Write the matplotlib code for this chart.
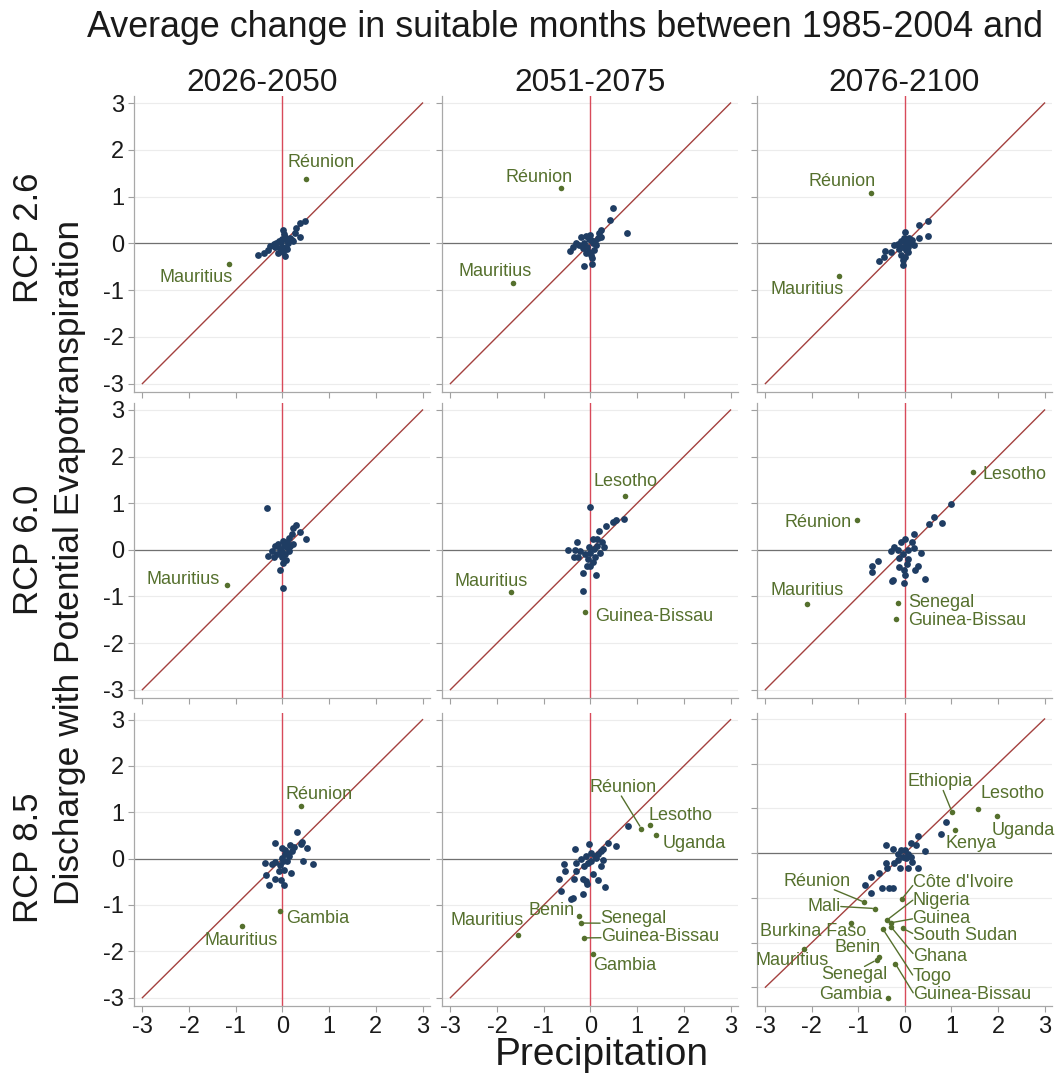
import matplotlib.pyplot as plt

plt.rcParams['font.family'] = ['Liberation Sans', 'DejaVu Sans']
plt.rcParams['axes.unicode_minus'] = False

periods = ["2026-2050", "2051-2075", "2076-2100"]
scenarios = ["RCP 2.6", "RCP 6.0", "RCP 8.5"]
ticks = [-3, -2, -1, 0, 1, 2, 3]

# (precipitation, discharge) change for the unlabelled countries
rest_26_a = [(-0.52, -0.26), (-0.40, -0.21), (-0.31, -0.14), (-0.26, -0.06), (-0.19, -0.01),
             (-0.13, 0.01), (-0.07, 0.04), (0.01, 0.29), (0.05, 0.14), (0.09, 0.07),
             (0.12, 0.00), (0.05, -0.27), (0.01, -0.18), (-0.02, -0.07), (0.16, 0.11),
             (0.23, 0.04), (0.26, 0.21), (0.30, 0.32), (0.37, 0.43), (0.49, 0.48),
             (0.37, 0.14), (-0.06, -0.11), (0.00, 0.09), (0.07, -0.07), (-0.09, -0.21),
             (-0.16, -0.07), (0.03, 0.20), (0.10, -0.12), (-0.04, 0.03), (0.20, 0.08)]
rest_26_b = [(0.48, 0.75), (0.41, 0.49), (0.79, 0.21), (-0.14, -0.48), (0.03, -0.45),
             (-0.43, -0.16), (-0.38, -0.07), (-0.31, 0.00), (-0.20, 0.14), (-0.09, 0.16),
             (-0.02, 0.18), (0.01, 0.07), (0.09, 0.04), (0.16, 0.11), (0.23, 0.14),
             (0.23, 0.29), (0.19, 0.21), (-0.07, -0.07), (-0.04, -0.18), (0.01, -0.25),
             (0.07, -0.14), (-0.16, -0.11), (-0.24, -0.04), (-0.13, 0.00), (-0.09, -0.21),
             (0.12, -0.04), (0.04, -0.32), (-0.03, 0.10), (0.05, 0.00)]
rest_26_c = [(0.50, 0.48), (0.31, 0.39), (0.49, 0.16), (0.31, 0.11), (0.00, 0.25),
             (-0.55, -0.37), (-0.44, -0.29), (-0.43, -0.16), (-0.31, -0.19), (-0.23, -0.04),
             (-0.16, -0.01), (-0.09, 0.04), (-0.05, -0.46), (-0.05, -0.36), (0.00, -0.29),
             (0.02, -0.14), (0.06, -0.07), (0.13, 0.00), (0.20, -0.04), (0.09, 0.11),
             (0.16, 0.07), (-0.05, -0.07), (-0.12, -0.13), (-0.01, 0.07), (-0.09, -0.25),
             (0.06, -0.18), (0.03, 0.02), (-0.02, 0.12)]
rest_60_a = [(-0.34, 0.89), (0.02, -0.81), (-0.06, -0.43), (0.51, 0.23), (0.29, 0.53),
             (0.22, 0.46), (0.38, 0.39), (0.20, 0.34), (-0.30, -0.14), (-0.23, -0.02),
             (-0.16, 0.09), (-0.09, 0.12), (0.02, 0.19), (0.09, 0.16), (0.16, 0.09),
             (0.22, 0.12), (0.13, -0.02), (0.06, -0.08), (-0.01, -0.16), (0.02, -0.29),
             (0.08, -0.22), (-0.12, -0.09), (-0.19, -0.16), (-0.05, 0.01), (0.09, 0.05),
             (0.03, 0.08), (-0.02, -0.04), (0.15, 0.25)]
rest_60_b = [(0.00, 0.91), (0.71, 0.67), (0.55, 0.64), (0.49, 0.59), (0.34, 0.50),
             (0.19, 0.41), (-0.16, -0.89), (-0.16, -0.49), (0.11, -0.54), (-0.49, 0.00),
             (-0.36, -0.16), (-0.29, 0.16), (-0.33, 0.00), (-0.22, -0.02), (-0.26, -0.16),
             (-0.08, -0.34), (0.00, -0.34), (0.05, -0.27), (0.10, -0.15), (0.21, -0.06),
             (0.28, 0.06), (0.24, 0.16), (0.14, 0.24), (0.05, 0.23), (-0.04, 0.05),
             (-0.11, -0.09), (0.00, -0.06), (0.14, 0.09), (0.08, 0.02), (-0.06, -0.20)]
rest_60_c = [(0.99, 0.99), (0.63, 0.70), (0.52, 0.56), (0.79, 0.58), (0.20, 0.34),
             (-0.59, -0.25), (-0.71, -0.35), (-0.71, -0.48), (-0.28, -0.68), (-0.26, -0.64),
             (-0.01, -0.71), (0.43, -0.62), (0.27, -0.34), (0.22, -0.44), (0.34, -0.06),
             (0.00, -0.55), (-0.01, -0.44), (-0.12, -0.37), (0.04, -0.31), (0.06, -0.19),
             (-0.12, -0.17), (-0.30, -0.03), (-0.23, 0.06), (-0.09, 0.16), (0.00, 0.24),
             (0.16, 0.16), (0.19, 0.04), (0.06, -0.01), (-0.16, -0.01), (-0.05, -0.09)]
rest_85_a = [(0.31, 0.58), (-0.15, 0.34), (0.42, 0.37), (0.53, 0.23), (0.65, -0.11),
             (0.44, -0.06), (-0.38, -0.09), (-0.22, -0.11), (-0.15, -0.08), (-0.35, -0.36),
             (-0.28, -0.56), (-0.15, -0.44), (-0.04, -0.45), (0.03, -0.57), (-0.08, -0.27),
             (0.03, -0.24), (0.19, -0.31), (0.10, -0.06), (0.14, 0.05), (0.21, 0.16),
             (0.24, 0.26), (0.17, 0.29), (0.06, 0.19), (-0.01, 0.23), (0.06, 0.09),
             (-0.01, 0.01), (-0.06, -0.13), (0.39, 0.32), (0.10, 0.12), (0.02, -0.05)]
rest_85_b = [(0.80, 0.70), (0.55, 0.27), (0.37, 0.33), (0.26, 0.21), (-0.03, 0.31),
             (-0.34, 0.21), (-0.57, -0.12), (-0.54, -0.27), (-0.31, -0.09), (-0.20, 0.00),
             (-0.09, 0.06), (0.01, 0.13), (0.09, 0.06), (0.16, 0.09), (0.23, 0.16),
             (0.26, -0.03), (0.23, -0.16), (0.05, -0.34), (0.16, -0.46), (0.32, -0.62),
             (-0.07, -0.55), (-0.09, -0.48), (-0.16, -0.43), (-0.36, -0.43), (-0.31, -0.26),
             (-0.67, -0.44), (-0.63, -0.69), (-0.38, -0.85), (-0.41, -0.87), (-0.16, -0.77),
             (-0.13, -0.16), (-0.06, -0.09), (0.01, -0.05), (0.12, 0.02)]
rest_85_c = [(0.89, 0.69), (0.77, 0.42), (0.29, 0.38), (0.24, 0.18), (0.14, 0.22),
             (0.43, 0.04), (-0.40, 0.19), (-0.26, 0.09), (-0.16, -0.01), (-0.09, 0.07),
             (0.00, 0.08), (0.06, -0.01), (0.13, -0.08), (0.16, -0.21), (0.27, -0.34),
             (0.06, -0.34), (-0.11, -0.34), (-0.23, -0.23), (-0.41, -0.22), (-0.39, -0.34),
             (-0.55, -0.44), (-0.73, -0.53), (-0.86, -0.72), (-0.73, -0.89), (-0.50, -0.79),
             (-0.34, -0.79), (-0.26, -0.77), (-0.05, -0.08), (0.02, -0.12), (-0.16, -0.16)]

# labelled outliers: (country, precipitation, discharge)
named_26_a = [("Réunion", 0.51, 1.37), ("Mauritius", -1.14, -0.45)]
named_26_b = [("Réunion", -0.64, 1.18), ("Mauritius", -1.65, -0.84)]
named_26_c = [("Réunion", -0.74, 1.07), ("Mauritius", -1.42, -0.69)]
named_60_a = [("Mauritius", -1.19, -0.76)]
named_60_b = [("Lesotho", 0.75, 1.16), ("Mauritius", -1.71, -0.90),
              ("Guinea-Bissau", -0.11, -1.34)]
named_60_c = [("Lesotho", 1.47, 1.66), ("Réunion", -1.03, 0.65), ("Mauritius", -2.11, -1.17),
              ("Senegal", -0.14, -1.14), ("Guinea-Bissau", -0.19, -1.48)]
named_85_a = [("Réunion", 0.39, 1.13), ("Mauritius", -0.86, -1.45), ("Gambia", -0.06, -1.14)]
named_85_b = [("Réunion", 1.09, 0.65), ("Lesotho", 1.27, 0.73), ("Uganda", 1.41, 0.51),
              ("Mauritius", -1.56, -1.64), ("Benin", -0.24, -1.24), ("Senegal", -0.20, -1.39),
              ("Guinea-Bissau", -0.14, -1.71), ("Gambia", 0.06, -2.05)]
named_85_c = [("Ethiopia", 1.01, 0.92), ("Lesotho", 1.58, 0.99), ("Uganda", 1.97, 0.83),
              ("Kenya", 1.08, 0.52), ("Réunion", -0.87, -1.10), ("Mali", -0.64, -1.24),
              ("Côte d'Ivoire", -0.07, -1.03), ("Nigeria", -0.39, -1.50),
              ("Guinea", -0.31, -1.56), ("Ghana", -0.30, -1.65), ("Togo", -0.48, -1.69),
              ("South Sudan", -0.05, -1.68), ("Burkina Faso", -1.16, -1.57),
              ("Benin", -0.55, -2.33), ("Senegal", -0.61, -2.39), ("Mauritius", -2.18, -2.15),
              ("Guinea-Bissau", -0.21, -2.47), ("Gambia", -0.36, -3.23)]

rest = [[rest_26_a, rest_26_b, rest_26_c],
        [rest_60_a, rest_60_b, rest_60_c],
        [rest_85_a, rest_85_b, rest_85_c]]
named = [[named_26_a, named_26_b, named_26_c],
         [named_60_a, named_60_b, named_60_c],
         [named_85_a, named_85_b, named_85_c]]

# label placement in pixels: (dx, dy, ha, leader-line start as relpos or None)
C, L, R = 'center', 'left', 'right'
label_pos = [
    [{"Réunion": (15, 17, C, None), "Mauritius": (-33, -13, C, None)},
     {"Réunion": (-22, 11, C, None), "Mauritius": (-18, 11, C, None)},
     {"Réunion": (-28, 12, C, None), "Mauritius": (-32, -14, C, None)}],
    [{"Mauritius": (-7, 6, R, None)},
     {"Lesotho": (0, 14, C, None), "Mauritius": (-20, 10, C, None),
      "Guinea-Bissau": (10, -4, L, None)},
     {"Lesotho": (9, -2, L, None), "Réunion": (-5, -3, R, None), "Mauritius": (0, 14, C, None),
      "Senegal": (10, 0, L, None), "Guinea-Bissau": (12, -2, L, None)}],
    [{"Réunion": (18, 12, C, None), "Mauritius": (-1, -15, C, None),
      "Gambia": (6, -7, L, None)},
     {"Réunion": (-18, 41, C, (0.47, 0)), "Lesotho": (31, 9, C, None),
      "Uganda": (38, -8, C, None), "Mauritius": (-31, 14, C, None),
      "Benin": (-28, 6, C, None), "Senegal": (19, 5, L, (0, 0.2)),
      "Guinea-Bissau": (17, 1, L, (0, 0.45)), "Gambia": (31, -12, C, None)},
     {"Ethiopia": (-12, 30, C, (0.55, 0)), "Lesotho": (34, 15, C, None),
      "Uganda": (27, -15, C, None), "Kenya": (16, -14, C, None),
      "Réunion": (-47, 21, C, (0.75, 0)), "Mali": (-51, 2, C, (1, 0.5)),
      "Côte d'Ivoire": (11, 17, L, (0, 0.3)), "Nigeria": (26, 20, L, (0, 0.5)),
      "Guinea": (22, 4, L, (0, 0.5)), "South Sudan": (10, -7, L, (0, 0.6)),
      "Ghana": (22, -30, L, (0, 0.7)), "Togo": (30, -48, L, (0, 0.6)),
      "Guinea-Bissau": (18, -31, L, (0, 0.6)), "Burkina Faso": (-38, -8, C, None),
      "Benin": (-22, 10, C, None), "Senegal": (-22, -15, C, (0.65, 1)),
      "Mauritius": (-11, -11, C, None), "Gambia": (-6, 3, R, None)}],
]

NAVY = '#1f3d63'
GREEN = '#55702d'
INK = '#1a1a1a'
W, H = 1060, 1075
col_left = [134, 442, 757]
col_width = [296, 296, 295]
row_top = [96, 403, 712.7]
row_bottom = [392, 698, 1006]

fig = plt.figure(figsize=(W / 100, H / 100), dpi=100)

for r in range(3):
    for c in range(3):
        ax = fig.add_axes([col_left[c] / W, 1 - row_bottom[r] / H,
                           col_width[c] / W, (row_bottom[r] - row_top[r]) / H])
        ax.set_xlim(-3.18, 3.16)
        if r == 2 and c == 2:
            ax.set_ylim(-3.42, 3.14)
        else:
            ax.set_ylim(-3.18, 3.15)
        ax.set_xticks(ticks)
        ax.set_yticks(ticks)
        ax.set_axisbelow(True)
        ax.yaxis.grid(True, color='#ececec', lw=0.8)
        for s in ('top', 'right'):
            ax.spines[s].set_visible(False)
        for s in ('left', 'bottom'):
            ax.spines[s].set_color('#a8a8a8')
            ax.spines[s].set_linewidth(0.9)
        ax.tick_params(direction='out', length=4, width=0.8, color='#a0a0a0',
                       labelsize=17, labelcolor=INK, pad=3,
                       labelleft=(c == 0), labelbottom=(r == 2))

        ax.axhline(0, color='#707070', lw=0.9, zorder=1)
        ax.axvline(0, color='#d84a5a', lw=1.0, zorder=1)
        ax.plot([-3, 3], [-3, 3], color='#a4413f', lw=1.0, zorder=1)

        pts = rest[r][c]
        ax.scatter([p[0] for p in pts], [p[1] for p in pts], s=24, color=NAVY,
                   linewidths=0, zorder=3)
        lab = named[r][c]
        ax.scatter([p[1] for p in lab], [p[2] for p in lab], s=16, color=GREEN,
                   linewidths=0, zorder=3)
        for name, x, y in lab:
            dx, dy, ha, rel = label_pos[r][c][name]
            arrow = None
            if rel is not None:
                arrow = dict(arrowstyle='-', color=GREEN, lw=1.0, relpos=rel,
                             patchA=None, shrinkA=0, shrinkB=2)
            ax.annotate(name, (x, y), xytext=(dx, dy), textcoords='offset pixels',
                        ha=ha, va='center', fontsize=13, color=GREEN,
                        arrowprops=arrow, zorder=4)

fig.text(565 / W, 1 - 37 / H, "Average change in suitable months between 1985-2004 and",
         ha='center', va='baseline', fontsize=25.8, color=INK)
title_x = [262, 590, 904]
for c in range(3):
    fig.text(title_x[c] / W, 1 - 90.7 / H, periods[c], ha='center', va='baseline',
             fontsize=22.8, color=INK)
row_y = [238, 550, 858]
for r in range(3):
    fig.text(28 / W, 1 - row_y[r] / H, scenarios[r], rotation=90, ha='center',
             va='center', fontsize=25, color=INK)
fig.text(70 / W, 1 - 562 / H, "Discharge with Potential Evapotranspiration", rotation=90,
         ha='center', va='center', fontsize=25.5, color=INK)
fig.text(602 / W, 1 - 1065 / H, "Precipitation", ha='center', va='baseline',
         fontsize=28, color=INK)

fig.savefig('out.png', dpi=100)
